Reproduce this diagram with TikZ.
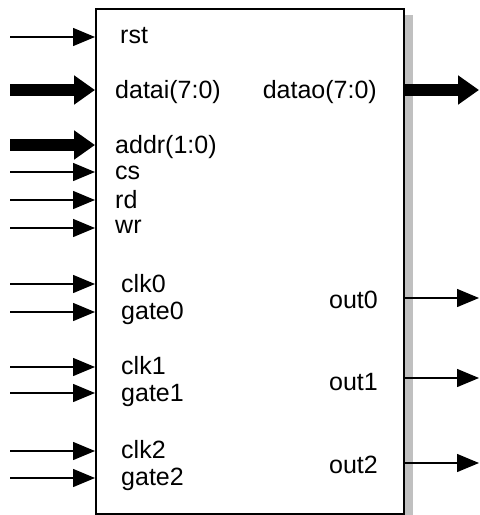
\documentclass[tikz,border=0pt]{standalone}
\usepackage{fontspec}
\setmainfont{Liberation Sans}
\usetikzlibrary{arrows.meta}
\definecolor{ShadowGray}{HTML}{C0C0C0}

\tikzset{
  pin/.style={-{Triangle[length=22pt,width=18pt]}, line width=1.4pt},
  bus/.style={-{Triangle[length=21pt,width=28pt]}, line width=12pt},
  lbl/.style={inner sep=0pt, font=\fontsize{25}{29}\selectfont},
}

\begin{document}
\begin{tikzpicture}[x=1pt, y=-1pt]
  \useasboundingbox (0,0) rectangle (480,515);

  % shadow and chip body
  \fill[ShadowGray] (403,15) rectangle (413,515);
  \node[draw, line width=1.8pt, fill=white, minimum width=308pt, minimum height=505pt,
        inner sep=0pt, anchor=north west] (chip) at (95,8) {};

  % single inputs
  \foreach \name/\y in {rst/37, cs/172, rd/200, wr/228, clk0/284, gate0/312,
                        clk1/367, gate1/393, clk2/451, gate2/478} {
    \coordinate (\name-in) at (10,\y);
    \draw[pin] (\name-in) -- (chip.west |- \name-in);
  }
  % bus inputs
  \foreach \name/\y in {datai/90, addr/145} {
    \coordinate (\name-in) at (10,\y);
    \draw[bus] (\name-in) -- (chip.west |- \name-in);
  }
  % outputs
  \coordinate (datao-out) at (479,90);
  \draw[bus] (chip.east |- datao-out) -- (datao-out);
  \foreach \name/\y in {out0/298, out1/378, out2/463} {
    \coordinate (\name-out) at (479,\y);
    \draw[pin] (chip.east |- \name-out) -- (\name-out);
  }

  % port labels
  \node[lbl, anchor=west] (rst) at (120,36) {rst};
  \node[lbl, anchor=west] (datai) at (115,92) {datai(7:0)};
  \node[lbl, anchor=west] (addr) at (115,147) {addr(1:0)};
  \node[lbl, anchor=west] (cs) at (115,173) {cs};
  \node[lbl, anchor=west] (rd) at (115,200) {rd};
  \node[lbl, anchor=west] (wr) at (115,227) {wr};
  \node[lbl, anchor=west] (clk0) at (121,284) {clk0};
  \node[lbl, anchor=west] (gate0) at (121,313) {gate0};
  \node[lbl, anchor=west] (clk1) at (121,366) {clk1};
  \node[lbl, anchor=west] (gate1) at (121,395) {gate1};
  \node[lbl, anchor=west] (clk2) at (121,450) {clk2};
  \node[lbl, anchor=west] (gate2) at (121,479) {gate2};
  \node[lbl, anchor=east] (datao) at (377,92) {datao(7:0)};
  \node[lbl, anchor=east] (out0) at (378,300) {out0};
  \node[lbl, anchor=east] (out1) at (378,382) {out1};
  \node[lbl, anchor=east] (out2) at (378,465) {out2};
\end{tikzpicture}
\end{document}
